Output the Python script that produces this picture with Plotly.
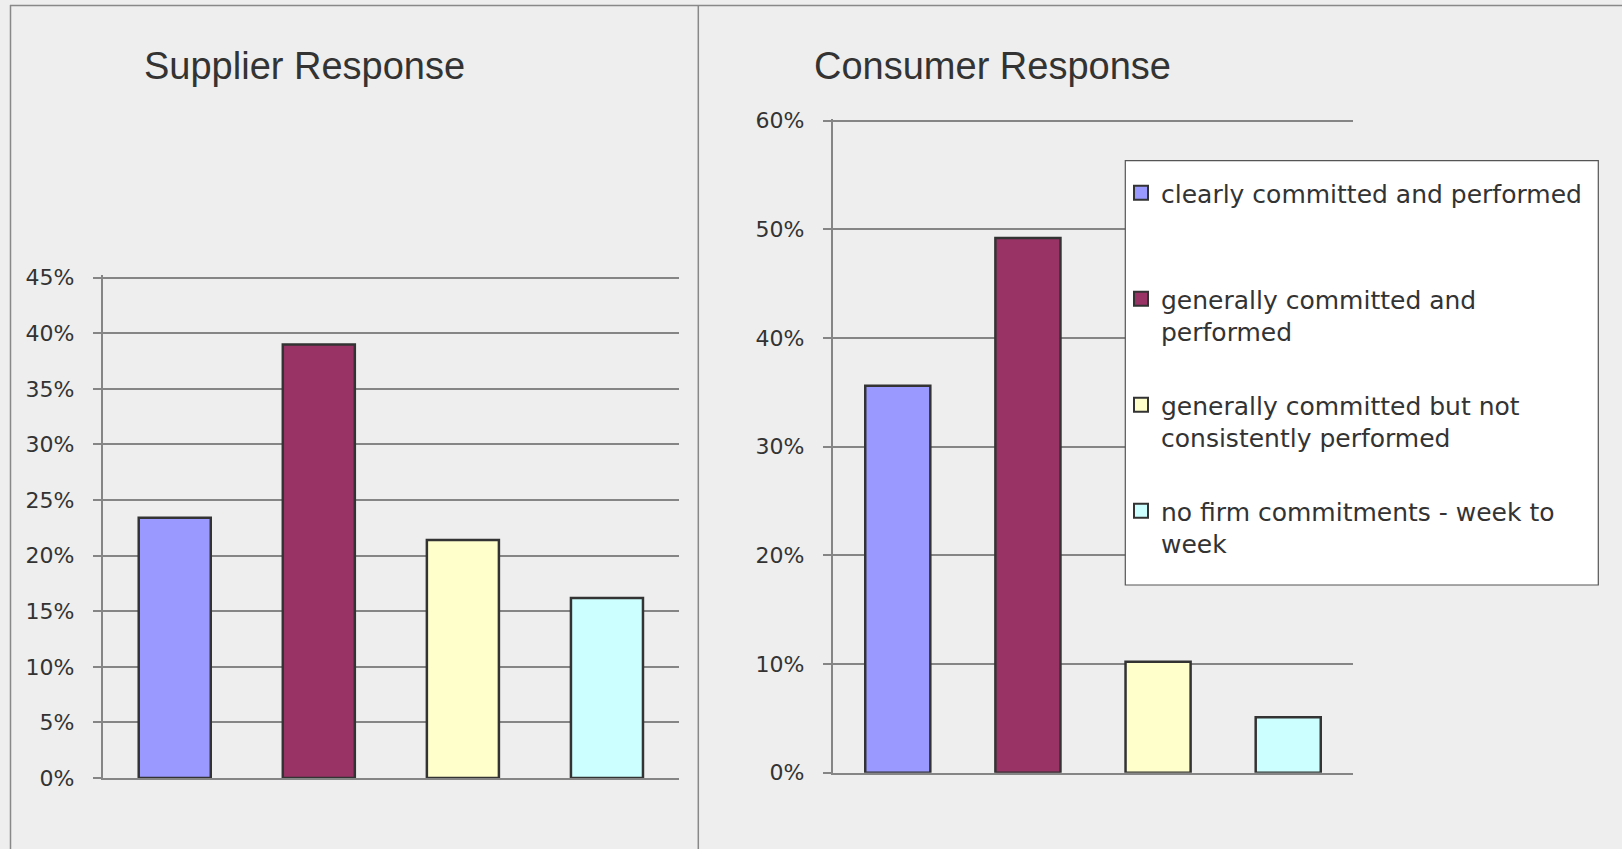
import plotly.graph_objects as go

# ---------------- data ----------------
categories = [
    "clearly committed and performed",
    "generally committed and performed",
    "generally committed but not consistently performed",
    "no firm commitments - week to week",
]
legend_labels = [
    "clearly committed and performed<br>\u00a0",
    "generally committed and<br>performed",
    "generally committed but not<br>consistently performed",
    "no firm commitments - week to<br>week",
]
supplier_values = [0.234, 0.390, 0.214, 0.162]
consumer_values = [0.356, 0.492, 0.102, 0.051]
bar_colors = ["#9999FF", "#993366", "#FFFFCC", "#CCFFFF"]
supplier_title = "Supplier Response"
consumer_title = "Consumer Response"
supplier_ticks = [0, 0.05, 0.10, 0.15, 0.20, 0.25, 0.30, 0.35, 0.40, 0.45]
consumer_ticks = [0, 0.10, 0.20, 0.30, 0.40, 0.50, 0.60]

# ---------------- layout geometry (pixels) ----------------
W, H = 1622, 849
def px_x(v):
    return v / W
def px_y(v):
    return 1 - v / H

BG = "#EEEEEE"
GRID = "#858585"
TXT = "#333333"
EDGE = "#333333"
FONT = "Liberation Sans, Arial, sans-serif"
WIDE = "DejaVu Sans, Verdana, sans-serif"

fig = go.Figure()

for i, cat in enumerate(categories):
    fig.add_trace(go.Bar(
        x=[cat], y=[supplier_values[i]], name=legend_labels[i],
        marker=dict(color=bar_colors[i], line=dict(color=EDGE, width=2.5)),
        xaxis="x", yaxis="y", showlegend=False, legendgroup=f"g{i}",
    ))
for i, cat in enumerate(categories):
    fig.add_trace(go.Bar(
        x=[cat], y=[consumer_values[i]], name=legend_labels[i],
        marker=dict(color=bar_colors[i], line=dict(color=EDGE, width=2.5)),
        xaxis="x2", yaxis="y2", showlegend=False, legendgroup=f"g{i}",
    ))
# legend entries (square swatches like the reference)
for i, cat in enumerate(categories):
    fig.add_trace(go.Scatter(
        x=[None], y=[None], mode="markers", name=legend_labels[i],
        marker=dict(symbol="square", size=14, color=bar_colors[i],
                    line=dict(color=EDGE, width=2)),
        xaxis="x2", yaxis="y2", showlegend=True, legendgroup=f"g{i}",
        hoverinfo="skip",
    ))

common_y = dict(
    showgrid=True, gridcolor=GRID, gridwidth=2,
    showline=True, linecolor=GRID, linewidth=2,
    ticks="outside", ticklen=8, tickcolor=GRID, tickwidth=2,
    tickformat=".0%", tickfont=dict(family=WIDE, size=22, color=TXT),
    ticklabelstandoff=14, zeroline=False, fixedrange=True, automargin=False,
)
common_x = dict(
    showticklabels=False, showgrid=False, ticks="",
    showline=True, linecolor=GRID, linewidth=2, automargin=False,
    categoryorder="array", categoryarray=categories, fixedrange=True,
)

# y ranges extend a hair past the top tick so that its gridline is drawn
y1_top, y1_max = 277.7, 0.452
y2_top, y2_max = 120.7, 0.602
y1_dom_top = 778 - (778 - y1_top) * y1_max / 0.45
y2_dom_top = 772.7 - (772.7 - y2_top) * y2_max / 0.60

fig.update_layout(
    width=W, height=H,
    margin=dict(l=0, r=0, t=0, b=0, autoexpand=False),
    paper_bgcolor=BG, plot_bgcolor=BG,
    barmode="overlay", bargap=0.5,
    font=dict(family=FONT, color=TXT),
    xaxis=dict(domain=[px_x(102.7), px_x(679)], anchor="y", **common_x),
    yaxis=dict(domain=[px_y(778), px_y(y1_dom_top)], anchor="x", range=[0, y1_max],
               tickvals=supplier_ticks, **common_y),
    xaxis2=dict(domain=[px_x(832.7), px_x(1353.3)], anchor="y2", **common_x),
    yaxis2=dict(domain=[px_y(772.7), px_y(y2_dom_top)], anchor="x2", range=[0, y2_max],
                tickvals=consumer_ticks, **common_y),
    legend=dict(
        x=px_x(1121), y=px_y(170), xanchor="left", yanchor="top",
        bgcolor="rgba(0,0,0,0)", borderwidth=0,
        font=dict(family=WIDE, size=25, color=TXT),
        traceorder="grouped", tracegroupgap=38, valign="top",
    ),
    shapes=[
        # panel borders
        dict(type="line", xref="paper", yref="paper", x0=px_x(10.5), x1=px_x(10.5),
             y0=px_y(5), y1=0, line=dict(color="#888888", width=1.5)),
        dict(type="line", xref="paper", yref="paper", x0=px_x(10), x1=1,
             y0=px_y(5.5), y1=px_y(5.5), line=dict(color="#888888", width=1.5)),
        dict(type="line", xref="paper", yref="paper", x0=px_x(698.3), x1=px_x(698.3),
             y0=px_y(5), y1=0, line=dict(color="#888888", width=1.5)),
        # legend box
        dict(type="rect", xref="paper", yref="paper", x0=px_x(1125.3), x1=px_x(1598.3),
             y0=px_y(585), y1=px_y(160.7), fillcolor="white",
             line=dict(color="#555555", width=1.2), layer="above"),
    ],
    annotations=[
        dict(text=supplier_title, xref="paper", yref="paper", x=px_x(142), y=px_y(66),
             xanchor="left", yanchor="middle", showarrow=False,
             font=dict(family=FONT, size=38, color=TXT)),
        dict(text=consumer_title, xref="paper", yref="paper", x=px_x(812), y=px_y(66),
             xanchor="left", yanchor="middle", showarrow=False,
             font=dict(family=FONT, size=38, color=TXT)),
    ],
)

fig.write_html(
    "out.html",
    config={"displayModeBar": False},
    post_script="document.body.style.margin='0';document.body.style.overflow='hidden';",
)
